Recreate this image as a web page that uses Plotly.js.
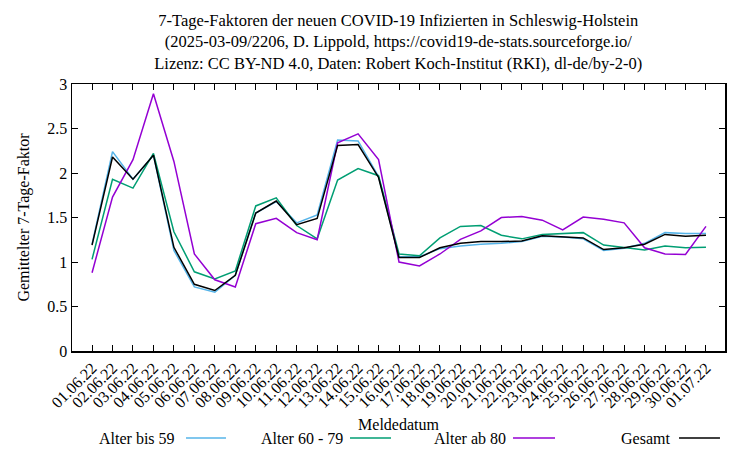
<!DOCTYPE html>
<html>
<head>
<meta charset="utf-8">
<script src="https://cdn.plot.ly/plotly-3.0.1.min.js"></script>
<style>html,body{margin:0;padding:0;background:#fff;}#chart{width:750px;height:450px;}</style>
</head>
<body>
<div id="chart"></div>
<script>
const dates = ["01.06.22","02.06.22","03.06.22","04.06.22","05.06.22","06.06.22","07.06.22","08.06.22","09.06.22","10.06.22","11.06.22","12.06.22","13.06.22","14.06.22","15.06.22","16.06.22","17.06.22","18.06.22","19.06.22","20.06.22","21.06.22","22.06.22","23.06.22","24.06.22","25.06.22","26.06.22","27.06.22","28.06.22","29.06.22","30.06.22","01.07.22"];
const alterBis59 = [1.20,2.24,1.93,2.20,1.13,0.72,0.66,0.85,1.55,1.68,1.44,1.53,2.37,2.36,1.96,1.06,1.06,1.15,1.18,1.20,1.21,1.23,1.29,1.28,1.26,1.13,1.155,1.21,1.33,1.32,1.32];
const alter60bis79 = [1.03,1.93,1.83,2.22,1.34,0.89,0.81,0.90,1.63,1.72,1.41,1.26,1.92,2.05,1.97,1.09,1.07,1.27,1.40,1.41,1.30,1.26,1.31,1.32,1.33,1.19,1.16,1.135,1.18,1.16,1.165];
const alterAb80 = [0.88,1.73,2.15,2.89,2.13,1.09,0.80,0.72,1.43,1.49,1.33,1.25,2.34,2.44,2.15,1.00,0.955,1.09,1.255,1.35,1.50,1.51,1.47,1.36,1.505,1.48,1.44,1.16,1.09,1.085,1.40];
const gesamt = [1.19,2.18,1.93,2.20,1.165,0.75,0.68,0.85,1.55,1.685,1.42,1.49,2.31,2.32,1.95,1.05,1.05,1.16,1.21,1.23,1.23,1.235,1.295,1.28,1.27,1.14,1.16,1.20,1.31,1.29,1.30];
const seriesNames = ["Alter bis 59","Alter 60 - 79","Alter ab 80","Gesamt"];
const seriesColors = ["#56b4e9","#009e73","#9400d3","#000000"];
const seriesValues = [alterBis59, alter60bis79, alterAb80, gesamt];

const traces = seriesValues.map((v,i)=>({
  type:'scatter', mode:'lines', x:dates, y:v, name:seriesNames[i],
  line:{color:seriesColors[i], width:1.5}, showlegend:false
}));

// custom gnuplot-style legend: text then line sample
const legendY = -0.326;
const legTextX = [0.1604,0.418,0.6677,0.9184];
const legLine = [[0.1746,0.2358],[0.4257,0.4885],[0.6753,0.7397],[0.9296,0.9923]];
const annotations = seriesNames.map((n,i)=>({
  xref:'paper', yref:'paper', x:legTextX[i], y:legendY, xanchor:'right', yanchor:'middle',
  text:n, showarrow:false, font:{family:'Liberation Serif', size:16, color:'#000'}
}));
const shapes = seriesNames.map((n,i)=>({
  type:'line', xref:'paper', yref:'paper', x0:legLine[i][0], x1:legLine[i][1], y0:legendY, y1:legendY,
  line:{color:seriesColors[i], width:1.5}
}));

const layout = {
  width:750, height:450,
  margin:{l:72, r:25, t:84, b:99},
  paper_bgcolor:'#fff', plot_bgcolor:'#fff',
  font:{family:'Liberation Serif', size:16, color:'#000'},
  title:{text:'7-Tage-Faktoren der neuen COVID-19 Infizierten in Schleswig-Holstein<br>(2025-03-09/2206, D. Lippold, https://covid19-de-stats.sourceforge.io/<br>Lizenz: CC BY-ND 4.0, Daten: Robert Koch-Institut (RKI), dl-de/by-2-0)',
    x:0.531, xanchor:'center', y:0.943, yanchor:'top', font:{family:'Liberation Serif', size:16.5, color:'#000'}},
  xaxis:{type:'category', range:[-0.98,30.93], tickangle:-45, ticks:'inside', ticklen:6, tickwidth:1,
    tickcolor:'#000', showline:true, linecolor:'#000', linewidth:1.5, mirror:'ticks', showgrid:false, zeroline:false,
    tickfont:{family:'Liberation Serif', size:16},
    title:{text:'Meldedatum', font:{family:'Liberation Serif', size:16}, standoff:8}, automargin:false},
  yaxis:{range:[0,3], dtick:0.5, ticks:'inside', ticklen:6, tickwidth:1, tickcolor:'#000',
    showline:true, linecolor:'#000', linewidth:1.5, mirror:'ticks', showgrid:false, zeroline:false,
    tickfont:{family:'Liberation Serif', size:16},
    title:{text:'Gemittelter 7-Tage-Faktor', font:{family:'Liberation Serif', size:16}, standoff:13}, automargin:false},
  annotations:annotations, shapes:shapes
};
Plotly.newPlot('chart', traces, layout, {staticPlot:true, displayModeBar:false});
</script>
</body>
</html>
